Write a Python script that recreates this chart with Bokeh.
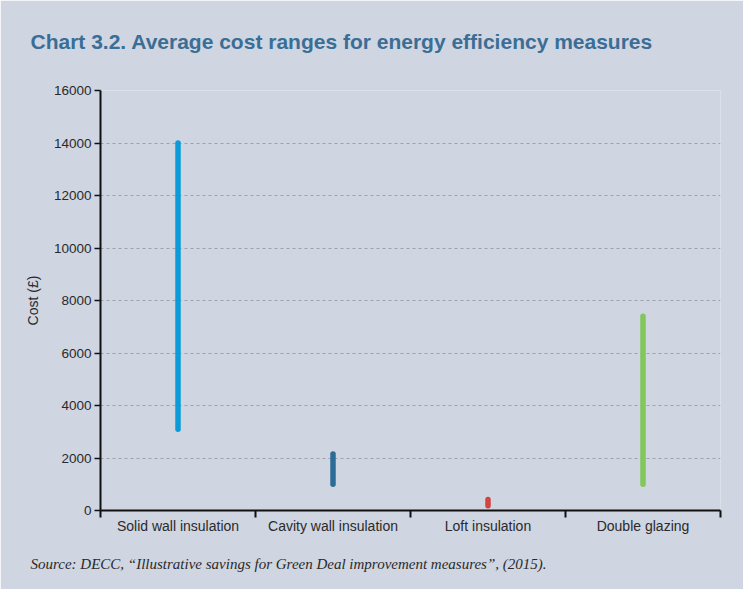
from bokeh.plotting import figure
from bokeh.models import Range1d, FixedTicker, Title, ColumnDataSource
from bokeh.embed import file_html
from bokeh.resources import INLINE

categories = ["Solid wall insulation", "Cavity wall insulation", "Loft insulation", "Double glazing"]
low_cost = [3100, 1000, 180, 1000]
high_cost = [14000, 2150, 420, 7400]
colors = ["#0b9bd9", "#2e6c98", "#d2443f", "#82c65c"]
y_ticks = [0, 2000, 4000, 6000, 8000, 10000, 12000, 14000, 16000]

BG = "#cfd5e1"
W, H = 743, 589

p = figure(width=W, height=H, output_backend="svg", toolbar_location=None,
           x_range=Range1d(0, len(categories)), y_range=Range1d(0, 16000),
           min_border_left=100, min_border_right=23, min_border_top=90, min_border_bottom=79)
p.background_fill_color = BG
p.border_fill_color = BG
p.outline_line_color = None

xs = [i + 0.5 for i in range(len(categories))]
src = ColumnDataSource(dict(x=xs, y0=low_cost, y1=high_cost, c=colors))
p.segment(x0="x", y0="y0", x1="x", y1="y1", source=src, line_color="c",
          line_width=5.5, line_cap="round")

# x axis
p.xaxis.ticker = FixedTicker(ticks=xs, minor_ticks=list(range(len(categories) + 1)))
p.xaxis.major_label_overrides = {x: c for x, c in zip(xs, categories)}
p.xaxis.major_tick_out = 0
p.xaxis.major_tick_in = 0
p.xaxis.minor_tick_out = 7
p.xaxis.minor_tick_in = 0
p.xaxis.minor_tick_line_color = "#111111"
p.xaxis.minor_tick_line_width = 2
p.xaxis.axis_line_color = "#111111"
p.xaxis.axis_line_width = 2
p.xaxis.major_label_text_font = "Liberation Sans"
p.xaxis.major_label_text_font_size = "14px"
p.xaxis.major_label_text_color = "#2a2a2a"
p.xaxis.major_label_standoff = 0

# y axis
p.yaxis.ticker = FixedTicker(ticks=y_ticks)
p.yaxis.minor_tick_line_color = None
p.yaxis.major_tick_out = 6
p.yaxis.major_tick_in = 0
p.yaxis.major_tick_line_color = "#111111"
p.yaxis.major_tick_line_width = 1.5
p.yaxis.axis_line_color = "#111111"
p.yaxis.axis_line_width = 2
p.yaxis.major_label_text_font = "Liberation Sans"
p.yaxis.major_label_text_font_size = "13.5px"
p.yaxis.major_label_text_color = "#2a2a2a"
p.yaxis.major_label_standoff = 3
p.yaxis.axis_label = "Cost (£)"
p.yaxis.axis_label_text_font = "Liberation Sans"
p.yaxis.axis_label_text_font_style = "normal"
p.yaxis.axis_label_text_font_size = "14px"
p.yaxis.axis_label_text_color = "#2a2a2a"
p.yaxis.axis_label_standoff = 10

p.xgrid.grid_line_color = None
p.ygrid.grid_line_color = "#9da2ab"
p.ygrid.grid_line_dash = "3 3"
p.ygrid.grid_line_width = 1

p.add_layout(Title(text="Chart 3.2. Average cost ranges for energy efficiency measures",
                   text_font="Liberation Sans", text_font_style="bold", text_font_size="21px",
                   text_color="#3a6e96", align="left", offset=-70, standoff=50,
                   padding=dict(left=0, right=0, top=0, bottom=13)), "above")
p.add_layout(Title(text="Source: DECC, \u201cIllustrative savings for Green Deal improvement measures\u201d, (2015).",
                   text_font="Liberation Serif", text_font_style="italic", text_font_size="15px",
                   text_color="#2a2a2a", align="left", offset=-70, standoff=35), "below")

open("out.html", "w").write(file_html(p, INLINE))
